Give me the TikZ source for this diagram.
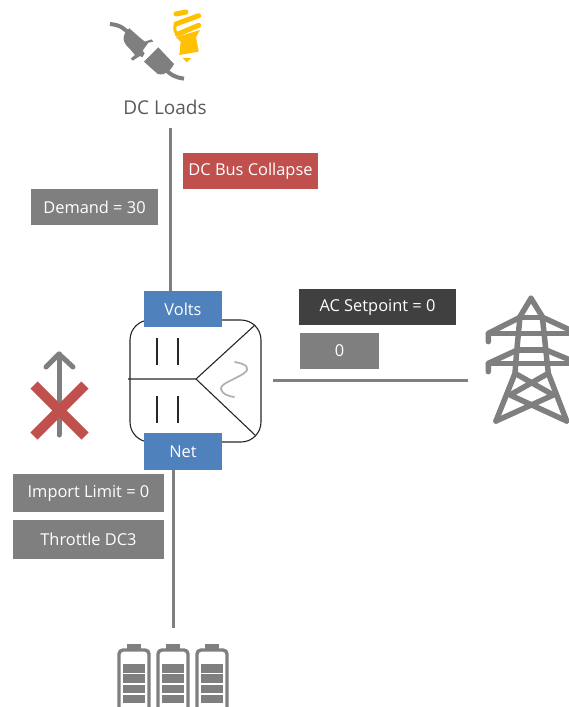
\documentclass[tikz,border=0pt]{standalone}
\usepackage{fontspec}
\setmainfont{Open Sans}
\definecolor{gr}{HTML}{7F7F7F}
\definecolor{blu}{HTML}{4F81BD}
\definecolor{redd}{HTML}{C0504D}
\definecolor{dark}{HTML}{404040}
\definecolor{yel}{HTML}{FFC000}
\definecolor{txt}{HTML}{595959}
\tikzset{
 lbl/.style={fill=#1,text=white,inner sep=0pt,font=\fontsize{16.4}{18}\selectfont,anchor=center},
 wire/.style={draw=gr,line width=3pt},
 conv/.style={draw=black!85,line width=1.1pt},
 icon/.style={draw=gr,line width=5.5pt,line join=round,line cap=round},
}
\begin{document}
\begin{tikzpicture}[x=1pt,y=-1pt]
\useasboundingbox (0,0) rectangle (569,707);
% coordinates for free ends
\node[font=\fontsize{19}{22}\selectfont,text=txt,inner sep=1pt] (loads) at (165,107) {DC Loads};
\coordinate (loadsEnd) at (170,128);
\coordinate (batt) at (173,628);
\coordinate (gridL) at (273,380);
\coordinate (gridR) at (468,380);
% converter
\node[draw=black!85,line width=1.1pt,rounded corners=20pt,minimum width=131pt,minimum height=122pt,inner sep=0pt] (conv) at (195.5,381) {};
\coordinate (mid) at (196,379);
\draw[conv] (128,379) -- (mid) -- (255,325);
\draw[conv] (mid) -- (255,435);
\foreach \x in {157,178}{
 \draw[conv] (\x,338) -- (\x,365);
 \draw[conv] (\x,396) -- (\x,423);
}
\draw[draw=black!30,line width=1.8pt,line cap=round] (235,362) .. controls (246,364) and (252,368) .. (243,374) .. controls (233,380) and (220,384) .. (221,389) .. controls (222,394) and (228,396) .. (234,397);
% labels
\node[lbl=blu,minimum width=78pt,minimum height=36pt] (volts) at (183,309) {\raisebox{-1pt}{Volts}};
\node[lbl=blu,minimum width=78pt,minimum height=37pt] (net) at (183,451.5) {\raisebox{-1pt}{Net}};
\node[lbl=gr,minimum width=127pt,minimum height=36pt] (demand) at (94.5,207) {\raisebox{-1pt}{Demand = 30}};
\node[lbl=redd,minimum width=135pt,minimum height=36pt] (bus) at (250.5,171) {\raisebox{-1pt}{DC Bus Collapse}};
\node[lbl=dark,minimum width=157pt,minimum height=36pt] (ac) at (377.5,307) {\raisebox{-1pt}{AC Setpoint = 0}};
\node[lbl=gr,minimum width=79pt,minimum height=36pt] (zero) at (339.5,351) {\raisebox{-1pt}{0}};
\node[lbl=gr,minimum width=151pt,minimum height=38pt] (imp) at (88.5,493) {\raisebox{-1pt}{Import Limit = 0}};
\node[lbl=gr,minimum width=151pt,minimum height=39pt] (thr) at (88.5,539.5) {\raisebox{-1pt}{Throttle DC3}};
% connectors
\draw[wire] (loadsEnd) -- (170,291);
\draw[wire] (173,470) -- (batt);
\draw[wire] (gridL) -- (gridR);
% blocked arrow
\draw[draw=gr,line width=5pt,line cap=round,line join=round] (59,435) -- (59,354);
\draw[draw=gr,line width=5pt,line cap=round,line join=round] (46,367) -- (59,354) -- (73,367);
\draw[draw=redd,line width=10pt] (34,385) -- (85,436);
\draw[draw=redd,line width=10pt] (85,385) -- (34,436);
% plug and bulb (drawn in zoomed coordinates)
\begin{scope}[shift={(90,0)},x=0.3333pt,y=-0.3333pt]
 \fill[gr] (118,85) .. controls (95,105) and (95,125) .. (118,145) -- (135,165) -- (122,176) -- (128,182) -- (150,168) -- (157,172) -- (164,160) -- (158,152) -- (175,128) -- (190,125) -- (184,118) -- (165,125) -- (152,115) -- cycle;
 \fill[gr] (205,142) -- (252,192) .. controls (240,218) and (215,228) .. (203,222) -- (162,185) -- cycle;
 \draw[gr,line width=4pt] (60,72) .. controls (90,75) and (105,85) .. (120,105);
 \draw[gr,line width=4pt] (225,205) .. controls (240,225) and (255,232) .. (282,236);
 \draw[yel,line width=5pt,line cap=round] (258,42) -- (288,36);
 \draw[yel,line width=5pt,line cap=round] (258,72) -- (326,47);
 \draw[yel,line width=5pt,line cap=round] (262,103) -- (326,76);
 \draw[yel,line width=3pt,line cap=round] (258,72) .. controls (250,85) and (255,95) .. (262,103);
 \fill[yel] (258,112) -- (330,90) -- (318,112) -- (326,155) -- (268,165) -- (272,125) -- cycle;
 \fill[yel] (278,174) -- (303,174) -- (291,187) -- cycle;
\end{scope}
% tower
\begin{scope}[shift={(470,285)},x=0.3333pt,y=-0.3333pt]
 \draw[icon] (183,40) -- (150,95) -- (140,200) -- (135,265) -- (78,408);
 \draw[icon] (183,40) -- (217,95) -- (228,200) -- (235,265) -- (290,408);
 \draw[icon] (150,98) -- (217,98);
 \draw[icon] (148,98) -- (55,145) -- (55,170);
 \draw[icon] (55,145) -- (300,145);
 \draw[icon] (220,98) -- (300,135);
 \draw[icon] (142,195) -- (55,235) -- (55,260);
 \draw[icon] (55,235) -- (300,235);
 \draw[icon] (228,195) -- (300,225);
 \draw[icon] (142,195) -- (228,195);
 \draw[icon] (135,265) -- (250,330) -- (78,408);
 \draw[icon] (235,265) -- (120,330) -- (290,408);
\end{scope}
% batteries
\foreach \o in {0,39,78}{
\begin{scope}[shift={(\o,0)}]
 \draw[gr,line width=3.4pt,rounded corners=4pt] (119,650) rectangle (149,712);
 \fill[gr] (127,644) rectangle (141,649);
 \foreach \a/\b in {663.5/672.5,674/682.5,684.5/693,694.5/703}{
  \fill[gr] (123,\a) rectangle (145,\b);
 }
\end{scope}
}
\end{tikzpicture}
\end{document}
